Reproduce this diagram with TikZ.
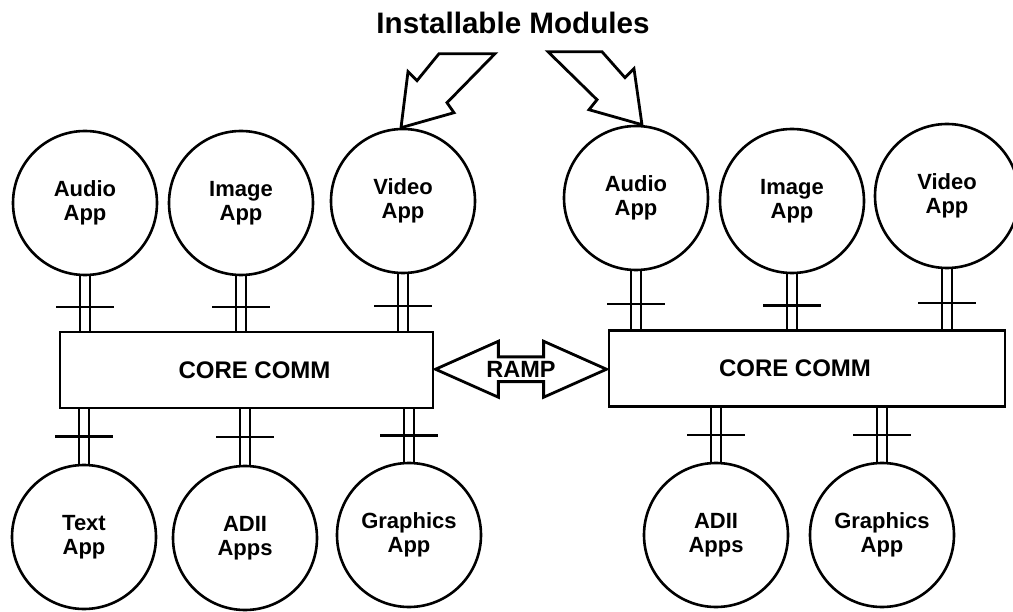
\documentclass[tikz,border=0pt]{standalone}
\usepackage{fontspec}
\setmainfont{Liberation Sans}
\usetikzlibrary{calc,shapes.arrows}

% double wire with a cross bar between an app and its hub
\newcommand{\plug}[3]{%
  \draw[wire] ([xshift=-5pt]#1) -- ([xshift=-5pt]#1 |- #2);
  \draw[wire] ([xshift=5pt]#1) -- ([xshift=5pt]#1 |- #2);
  \draw[wire] ($(#1)!#3!(#1 |- #2)$) +(-29,0) -- +(29,0);
}

\begin{document}
\begin{tikzpicture}[x=1pt,y=-1pt,
  app/.style={circle, draw, line width=2.6pt, minimum size=144pt, inner sep=0pt,
    align=center, font=\bfseries\fontsize{22}{24}\selectfont},
  core/.style={draw, line width=2.8pt, minimum height=76pt,
    font=\bfseries\fontsize{24}{28}\selectfont},
  wire/.style={line width=2.2pt},
  bolt/.style={draw, line width=2.8pt, line join=miter},
  ramp/.style={double arrow, draw, line width=2.8pt, inner sep=0pt,
    minimum height=171pt, minimum width=56pt,
    double arrow head extend=12pt, double arrow tip angle=48,
    font=\bfseries\fontsize{23.5}{26}\selectfont}]

  \useasboundingbox (0,0) rectangle (1013,612);

  % Title
  \node[font=\bfseries\fontsize{29.6}{34}\selectfont] (title) at (513,23) {Installable Modules};

  % Left hub and its apps
  \node[core, minimum width=373pt] (lcore) at (246.5,370) {\hspace*{16pt}CORE COMM};
  \node[app] (laudio) at (85,203) {Audio\\App};
  \node[app] (limage) at (241,203) {Image\\App};
  \node[app] (lvideo) at (403,201) {Video\\App};
  \node[app] (ltext) at (84,537) {Text\\App};
  \node[app] (ladii) at (245,538) {ADII\\Apps};
  \node[app] (lgraph) at (409,535) {Graphics\\App};

  % Right hub and its apps
  \node[core, minimum width=396pt] (rcore) at (807,368.5) {CORE COMM\hspace*{24pt}};
  \node[app] (raudio) at (636,198) {Audio\\App};
  \node[app] (rimage) at (792,201) {Image\\App};
  \node[app] (rvideo) at (947,196) {Video\\App};
  \node[app] (radii) at (716,535) {ADII\\Apps};
  \node[app] (rgraph) at (882,535) {Graphics\\App};

  % Connectors
  \foreach \n in {laudio,limage,lvideo}
    \plug{\n.south}{lcore.north}{0.56};
  \foreach \n in {ltext,ladii,lgraph}
    \plug{\n.north}{lcore.south}{0.5};
  \foreach \n in {raudio,rimage,rvideo}
    \plug{\n.south}{rcore.north}{0.57};
  \foreach \n in {radii,rgraph}
    \plug{\n.north}{rcore.south}{0.5};

  % RAMP link between the hubs
  \node[ramp] (ramp) at ($(lcore.east)!0.5!(rcore.west)$) {RAMP};

  % Installable module arrows
  \draw[bolt, shift={(lvideo.north)}] (-2,0) -- (5,-56) -- (14,-47) -- (36,-74)
    -- (92,-74) -- (44,-25) -- (51,-15) -- cycle;
  \draw[bolt, shift={(raudio.north)}] (6,0) -- (-2,-56) -- (-11,-47) -- (-34,-73)
    -- (-88,-73) -- (-39,-25) -- (-47,-15) -- cycle;
\end{tikzpicture}
\end{document}
